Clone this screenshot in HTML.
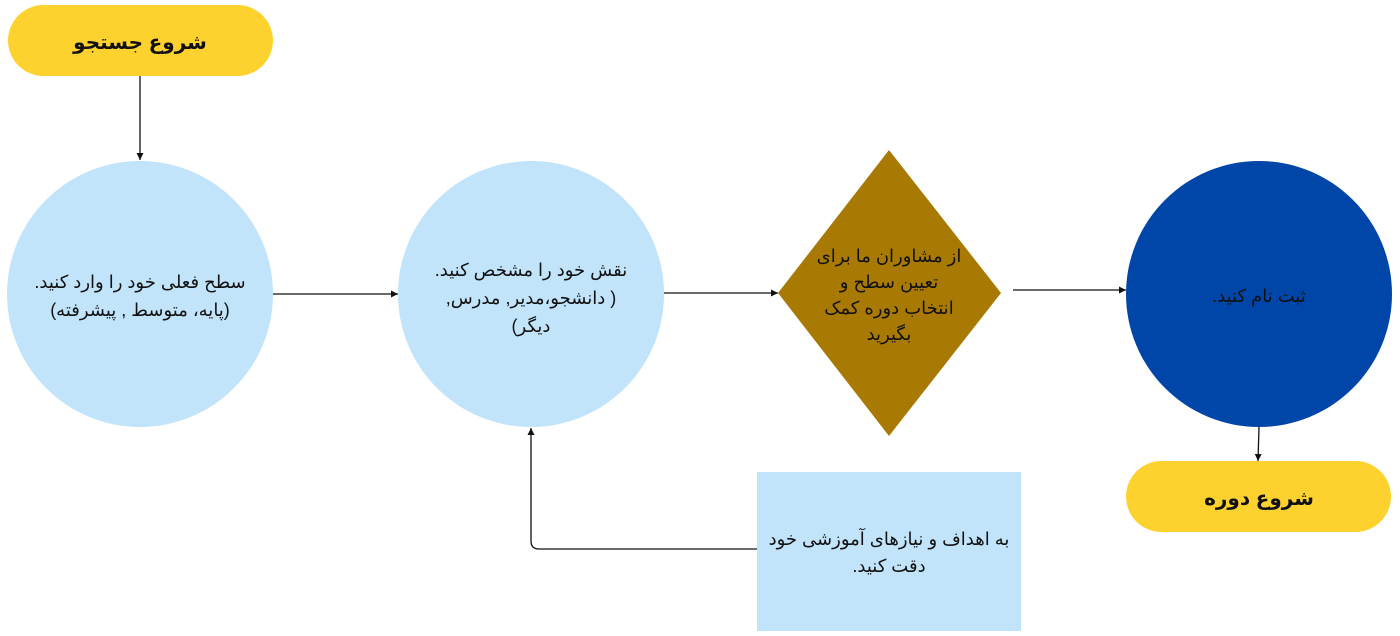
<!DOCTYPE html>
<html><head><meta charset="utf-8"><style>
html,body{margin:0;padding:0;background:#fff;}
svg{display:block}
text{font-family:"Liberation Sans","Noto Sans CJK SC","DejaVu Sans",sans-serif;}
</style></head><body>
<svg width="1400" height="636" viewBox="0 0 1400 636" xmlns="http://www.w3.org/2000/svg">
<defs><marker id="a" markerWidth="8" markerHeight="8" refX="7" refY="4" orient="auto" markerUnits="userSpaceOnUse"><path d="M0,0.5 L7,4 L0,7.5 Z" fill="#111"/></marker></defs>
<rect x="8" y="5" width="265" height="71" rx="35.5" fill="#FDD22F"/>
<text x="140" y="49" text-anchor="middle" font-size="20" font-weight="bold" fill="#111" direction="rtl">شروع جستجو</text>
<line x1="140" y1="76" x2="140" y2="160" stroke="#111" stroke-width="1.3" marker-end="url(#a)"/>
<circle cx="140" cy="294" r="133" fill="#C1E4FA"/>
<text text-anchor="middle" font-size="18" fill="#111" direction="rtl"><tspan x="140" y="288">سطح فعلی خود را وارد کنید.</tspan><tspan x="140" y="316">(پایه، متوسط , پیشرفته)</tspan></text>
<line x1="273" y1="294" x2="398" y2="294" stroke="#111" stroke-width="1.3" marker-end="url(#a)"/>
<circle cx="531" cy="294" r="133" fill="#C1E4FA"/>
<text text-anchor="middle" font-size="18" fill="#111" direction="rtl"><tspan x="531" y="276">نقش خود را مشخص کنید.</tspan><tspan x="531" y="304">( دانشجو،مدیر, مدرس,</tspan><tspan x="531" y="332">دیگر)</tspan></text>
<line x1="664" y1="293" x2="778" y2="293" stroke="#111" stroke-width="1.3" marker-end="url(#a)"/>
<polygon points="889,150 1001,293 889,436 778,293" fill="#A97A03"/>
<text text-anchor="middle" font-size="18" fill="#111" direction="rtl"><tspan x="889" y="262">از مشاوران ما برای</tspan><tspan x="889" y="288">تعیین سطح و</tspan><tspan x="889" y="314">انتخاب دوره کمک</tspan><tspan x="889" y="340">بگیرید</tspan></text>
<line x1="1013" y1="290" x2="1126" y2="290" stroke="#111" stroke-width="1.3" marker-end="url(#a)"/>
<circle cx="1259" cy="294" r="133" fill="#0046A8"/>
<text x="1259" y="302" text-anchor="middle" font-size="18" fill="#111" direction="rtl">ثبت نام کنید.</text>
<line x1="1259" y1="427" x2="1258" y2="461" stroke="#111" stroke-width="1.3" marker-end="url(#a)"/>
<rect x="1126" y="461" width="265" height="71" rx="35.5" fill="#FDD22F"/>
<text x="1259" y="505" text-anchor="middle" font-size="20" font-weight="bold" fill="#111" direction="rtl">شروع دوره</text>
<rect x="757" y="472" width="264" height="159" fill="#C1E4FA"/>
<text text-anchor="middle" font-size="18" fill="#111" direction="rtl"><tspan x="889" y="545">به اهداف و نیازهای آموزشی خود</tspan><tspan x="889" y="572">دقت کنید.</tspan></text>
<path d="M757,549 L539,549 Q531,549 531,541 L531,428" fill="none" stroke="#111" stroke-width="1.3" marker-end="url(#a)"/>
</svg>
</body></html>
